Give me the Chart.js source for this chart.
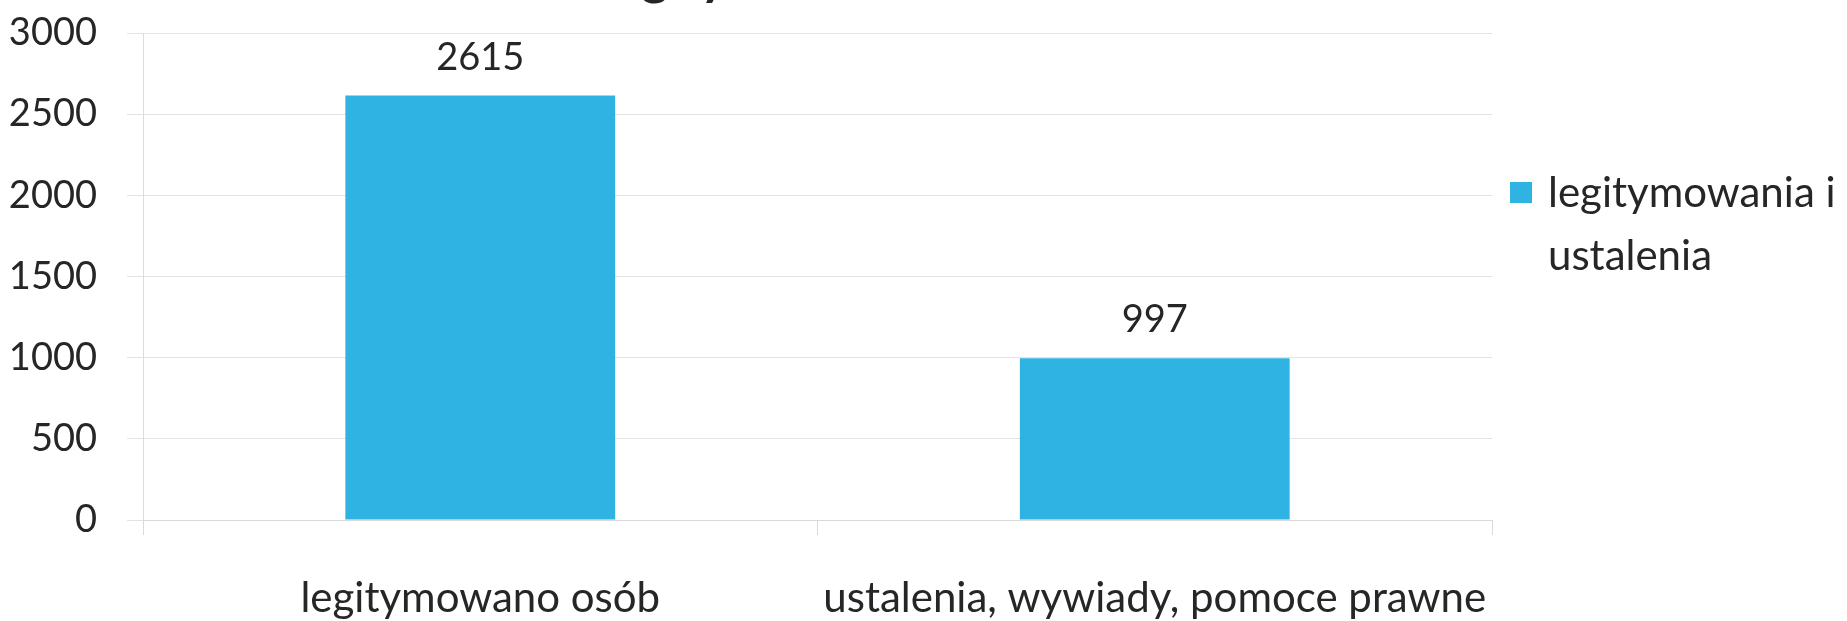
<!DOCTYPE html>
<html><head><meta charset="utf-8">
<script src="https://cdn.jsdelivr.net/npm/chart.js@4/dist/chart.umd.min.js"></script>
<style>
html,body{margin:0;padding:0;background:#fff;overflow:hidden}
#wrap{position:relative;width:1847px;height:621px;overflow:hidden;background:#fff}
#c{position:absolute;left:0;top:0}
#title{position:absolute;left:589px;top:-51px;font-family:Lato;font-weight:bold;font-size:51px;line-height:1;color:#262626;white-space:nowrap}
#legend{position:absolute;left:1510px;top:160px;font-family:Lato;font-size:42px;line-height:63px;color:#262626}
#legend .box{position:absolute;left:0;top:22px;width:22px;height:21px}
#legend .txt{position:absolute;left:38px;top:0;white-space:nowrap}
</style></head>
<body>
<div id="wrap">
<canvas id="c" width="1847" height="621"></canvas>
<div id="title"></div>
<div id="legend"><div class="box"></div><div class="txt"></div></div>
</div>
<script>
const chartTitle = 'Legitymowania i ustalenia';
const categories = ['legitymowano osób', 'ustalenia, wywiady, pomoce prawne'];
const seriesName = ['legitymowania i', 'ustalenia'];
const values = [2615, 997];
const yMin = 0, yMax = 3000, yStep = 500;
const barColor = '#2FB3E3';
const textColor = '#262626';

document.getElementById('title').textContent = chartTitle;
document.querySelector('#legend .box').style.background = barColor;
document.querySelector('#legend .txt').innerHTML = seriesName.map(s => s.replace(/&/g,'&amp;')).join('<br>');

const valueLabels = {
  id: 'valueLabels',
  afterDatasetsDraw(chart) {
    const ctx = chart.ctx;
    ctx.save();
    ctx.font = '38px Lato';
    ctx.fillStyle = textColor;
    ctx.textAlign = 'center';
    ctx.textBaseline = 'middle';
    chart.getDatasetMeta(0).data.forEach((el, i) => {
      ctx.fillText(String(values[i]), el.x, el.y - 38);
    });
    ctx.restore();
  }
};

new Chart(document.getElementById('c'), {
  type: 'bar',
  data: {
    labels: categories,
    datasets: [{
      label: seriesName.join(' '),
      data: values,
      backgroundColor: barColor,
      borderWidth: 0,
      barPercentage: 0.4,
      categoryPercentage: 1.0
    }]
  },
  options: {
    responsive: false,
    animation: false,
    devicePixelRatio: 1,
    layout: { padding: { left: 0, right: 355, top: 33, bottom: 0 } },
    plugins: {
      legend: { display: false },
      title: { display: false },
      tooltip: { enabled: false }
    },
    scales: {
      x: {
        offset: true,
        grid: { drawOnChartArea: false, drawTicks: true, tickLength: 15, color: '#D6DCDE', lineWidth: 1 },
        border: { display: true, color: '#D9D9D9' },
        ticks: { color: textColor, font: { family: 'Lato', size: 42 }, padding: 38, maxRotation: 0, autoSkip: false },
        afterFit(scale) { scale.height = 101; scale.paddingLeft = 0; scale.paddingRight = 0; }
      },
      y: {
        min: yMin, max: yMax,
        grid: { color: '#E3E3E3', lineWidth: 1, drawTicks: true, tickLength: 16 },
        border: { display: true, color: '#D3E0E3' },
        ticks: { stepSize: yStep, color: textColor, font: { family: 'Lato', size: 38 }, padding: 30,
                 callback: (v) => String(v) },
        afterFit(scale) { scale.width = 143; scale.paddingTop = 0; scale.paddingBottom = 0; }
      }
    }
  },
  plugins: [valueLabels]
});
</script>
</body></html>
